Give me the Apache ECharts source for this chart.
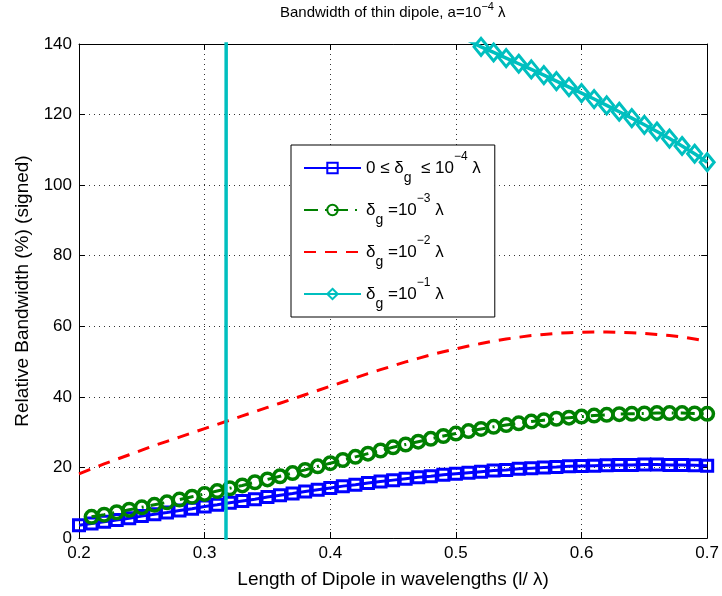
<!DOCTYPE html>
<html>
<head>
<meta charset="utf-8">
<script src="https://cdn.jsdelivr.net/npm/echarts@6/dist/echarts.min.js"></script>
<style>html,body{margin:0;padding:0;background:#fff}#c{width:722px;height:596px}</style>
</head>
<body>
<div id="c"></div>
<script>
// Dipole length in wavelengths (l / lambda)
const lengths = [0.20,0.21,0.22,0.23,0.24,0.25,0.26,0.27,0.28,0.29,
  0.30,0.31,0.32,0.33,0.34,0.35,0.36,0.37,0.38,0.39,
  0.40,0.41,0.42,0.43,0.44,0.45,0.46,0.47,0.48,0.49,
  0.50,0.51,0.52,0.53,0.54,0.55,0.56,0.57,0.58,0.59,
  0.60,0.61,0.62,0.63,0.64,0.65,0.66,0.67,0.68,0.69,0.70];

// 0 <= delta_g <= 1e-4 lambda
const bwGap1e4 = [3.6,4.1,4.6,5.1,5.6,6.2,6.7,7.2,7.8,8.3,
  8.9,9.4,10.0,10.5,11.0,11.6,12.1,12.6,13.2,13.7,
  14.2,14.7,15.1,15.6,16.0,16.4,16.8,17.2,17.5,17.9,
  18.2,18.5,18.8,19.1,19.3,19.6,19.8,20.0,20.1,20.3,
  20.4,20.5,20.6,20.7,20.7,20.8,20.8,20.7,20.7,20.6,20.5];

// delta_g = 1e-3 lambda
const bwGap1e3 = [null,6.0,6.6,7.3,8.0,8.7,9.4,10.1,10.9,11.7,
  12.5,13.3,14.1,14.9,15.8,16.6,17.5,18.4,19.3,20.3,
  21.2,22.1,23.0,23.9,24.8,25.7,26.5,27.3,28.1,28.9,
  29.6,30.3,30.9,31.5,32.0,32.5,33.0,33.4,33.8,34.1,
  34.4,34.7,34.9,35.1,35.2,35.3,35.4,35.4,35.4,35.3,35.2];

// delta_g = 1e-2 lambda
const bwGap1e2 = [18.2,19.6,21.0,22.3,23.6,24.9,26.2,27.4,28.6,29.8,
  31.0,32.2,33.4,34.6,35.8,37.0,38.2,39.4,40.6,41.8,
  43.0,44.2,45.4,46.6,47.7,48.8,49.9,50.9,51.9,52.8,
  53.6,54.4,55.1,55.8,56.4,56.9,57.4,57.7,58.0,58.2,
  58.3,58.4,58.4,58.3,58.2,58.0,57.7,57.4,57.0,56.4,55.7];

// delta_g = 1e-1 lambda (signed; very large around the pole near l = 0.317 lambda)
const bwGap1e1 = [-125,-135,-147,-163,-185,-215,-260,-330,-450,-700,
  -1500,-7000,3000,1100,650,450,340,280,240,215,
  198,186,177,170,164,159,155,151,148,145,
  143,141,139.2,137.6,136.0,134.4,132.8,131.2,129.5,127.8,
  126.1,124.4,122.6,120.8,119.0,117.1,115.2,113.2,111.1,108.9,106.5];

const xTicks = [0.2,0.3,0.4,0.5,0.6,0.7];
const yTicks = [0,20,40,60,80,100,120,140];

const seriesNames = ['0 ≤ δg ≤ 10^-4 λ','δg =10^-3 λ','δg =10^-2 λ','δg =10^-1 λ'];
const legendRich = {
  '0 ≤ δg ≤ 10^-4 λ': '{t|0 ≤ δ}{s|g}{t|  ≤ 10}{p|−4}{t| λ}',
  'δg =10^-3 λ': '{t|δ}{s|g}{t| =10}{p|−3}{t| λ}',
  'δg =10^-2 λ': '{t|δ}{s|g}{t| =10}{p|−2}{t| λ}',
  'δg =10^-1 λ': '{t|δ}{s|g}{t| =10}{p|−1}{t| λ}'
};

const FONT = '"Liberation Sans", Arial, Helvetica, sans-serif';

function pairs(vals) {
  const out = [];
  lengths.forEach((x, i) => { if (vals[i] !== null) out.push([x, vals[i]]); });
  return out;
}

const chart = echarts.init(document.getElementById('c'), null, {renderer: 'canvas'});

const axisCommon = {
  type: 'value',
  axisLine: {show: true, onZero: false, lineStyle: {color: '#000', width: 1}},
  axisTick: {show: true, inside: true, length: 6, lineStyle: {color: '#000'}},
};

const option = {
  animation: false,
  backgroundColor: '#fff',
  title: {
    text: 'Bandwidth of thin dipole, a=10{p|−4} λ',
    left: 280, top: 1, padding: 0,
    textStyle: {
      fontFamily: FONT, fontSize: 15, fontWeight: 'normal', color: '#000', lineHeight: 24,
      rich: {p: {fontFamily: FONT, fontSize: 11, lineHeight: 13, verticalAlign: 'top', color: '#000'}}
    }
  },
  grid: {left: 79, right: 14, top: 44, bottom: 58, containLabel: false},
  legend: {
    data: [
      {name: seriesNames[0]},
      {name: seriesNames[1]},
      {name: seriesNames[2], itemStyle: {opacity: 0}},
      {name: seriesNames[3]}
    ],
    orient: 'vertical',
    left: 291, top: 145,
    padding: [6, 14, 6, 12],
    itemGap: 8,
    itemWidth: 57, itemHeight: 13,
    backgroundColor: '#fff',
    borderColor: '#000', borderWidth: 1, borderRadius: 0,
    selectedMode: false,
    formatter: name => legendRich[name],
    textStyle: {
      fontFamily: FONT, fontSize: 17, color: '#000',
      rich: {
        t: {fontFamily: FONT, fontSize: 17, lineHeight: 34, verticalAlign: 'middle', color: '#000'},
        s: {fontFamily: FONT, fontSize: 14, lineHeight: 13, verticalAlign: 'bottom', color: '#000'},
        p: {fontFamily: FONT, fontSize: 12, lineHeight: 17, verticalAlign: 'top', color: '#000'}
      }
    }
  },
  xAxis: [
    Object.assign({}, axisCommon, {
      position: 'bottom', min: xTicks[0], max: xTicks[xTicks.length - 1], interval: 0.1,
      axisLabel: {show: true, margin: 7, fontFamily: FONT, fontSize: 17, color: '#000',
        formatter: v => v.toFixed(1)},
      splitLine: {show: true, lineStyle: {type: [1, 4], color: '#333', width: 1}},
      name: 'Length of Dipole in wavelengths (l/ λ)',
      nameLocation: 'middle', nameGap: 32,
      nameTextStyle: {fontFamily: FONT, fontSize: 19, color: '#000'}
    }),
    Object.assign({}, axisCommon, {
      position: 'top', min: xTicks[0], max: xTicks[xTicks.length - 1], interval: 0.1,
      axisLabel: {show: false}, splitLine: {show: false}
    })
  ],
  yAxis: [
    Object.assign({}, axisCommon, {
      position: 'left', min: yTicks[0], max: yTicks[yTicks.length - 1], interval: 20,
      axisLabel: {show: true, margin: 7, fontFamily: FONT, fontSize: 17, color: '#000'},
      splitLine: {show: true, lineStyle: {type: [1, 4], color: '#333', width: 1}},
      name: 'Relative Bandwidth (%) (signed)',
      nameLocation: 'middle', nameGap: 45,
      nameTextStyle: {fontFamily: FONT, fontSize: 19, color: '#000'}
    }),
    Object.assign({}, axisCommon, {
      position: 'right', min: yTicks[0], max: yTicks[yTicks.length - 1], interval: 20,
      axisLabel: {show: false}, splitLine: {show: false}
    })
  ],
  series: [
    {
      name: seriesNames[0], type: 'line', data: pairs(bwGap1e4),
      symbol: 'rect', symbolSize: 11, showAllSymbol: true, clip: true, z: 2,
      lineStyle: {color: '#0000ff', width: 3},
      itemStyle: {color: 'rgba(255,255,255,0)', borderColor: '#0000ff', borderWidth: 3},
      emphasis: {disabled: true}
    },
    {
      name: seriesNames[1], type: 'line', data: pairs(bwGap1e3),
      symbol: 'circle', symbolSize: 12.5, showAllSymbol: true, clip: true, z: 3,
      lineStyle: {color: '#008000', width: 3, type: [14, 7, 2, 7]},
      itemStyle: {color: 'rgba(255,255,255,0)', borderColor: '#008000', borderWidth: 3.5},
      emphasis: {disabled: true}
    },
    {
      name: seriesNames[2], type: 'line', data: pairs(bwGap1e2),
      symbol: 'none', clip: true, z: 4,
      lineStyle: {color: '#ff0000', width: 3, type: [12, 9]},
      itemStyle: {color: '#ff0000'},
      emphasis: {disabled: true}
    },
    {
      name: seriesNames[3], type: 'line', data: pairs(bwGap1e1),
      symbol: 'diamond', symbolSize: [14, 17], showAllSymbol: true, clip: true, z: 5,
      lineStyle: {color: '#00bfbf', width: 3.5},
      itemStyle: {color: 'rgba(255,255,255,0)', borderColor: '#00bfbf', borderWidth: 3},
      emphasis: {disabled: true}
    }
  ]
};

chart.setOption(option);
</script>
</body>
</html>
